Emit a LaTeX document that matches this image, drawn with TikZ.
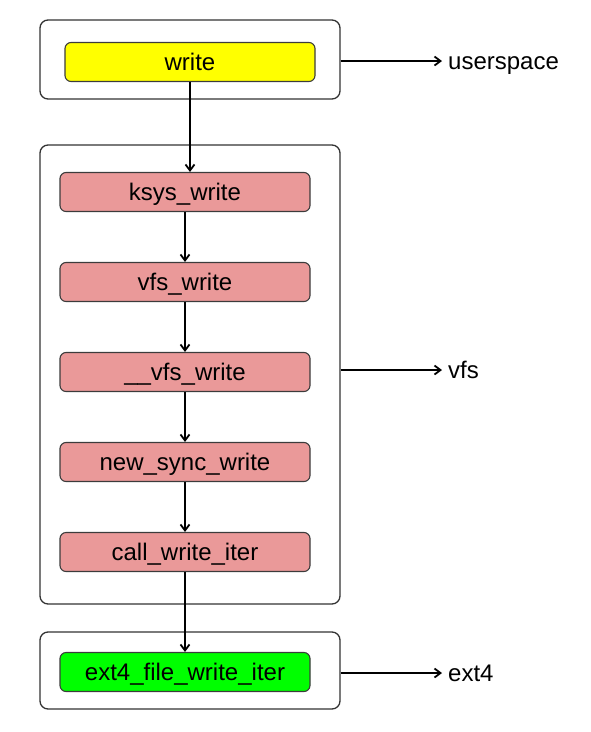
\documentclass[tikz,border=0pt]{standalone}
\usepackage{fontspec}
\setmainfont{Liberation Sans}
\usetikzlibrary{arrows.meta, positioning}

\begin{document}
\begin{tikzpicture}[
    x=1pt, y=-1pt,
    every node/.style={font=\fontsize{24}{28}\selectfont},
    grp/.style={
        rectangle, rounded corners=8pt,
        draw={rgb,255:red,51;green,51;blue,51},
        line width=1.3pt,
        minimum width=300pt
    },
    fn/.style={
        rectangle, rounded corners=6pt,
        draw={rgb,255:red,60;green,60;blue,60},
        line width=1.1pt,
        fill={rgb,255:red,234;green,153;blue,153},
        minimum width=250pt, minimum height=39pt,
        text height=19pt, text depth=3pt,
        inner sep=0pt
    },
    lbl/.style={anchor=west, inner sep=4pt, text height=19pt, text depth=3pt},
    arr/.style={
        -{Straight Barb[length=6pt,width=9pt]},
        line width=1.8pt, black
    }
]
\useasboundingbox (0,0) rectangle (590,732);

%% -- Layer boxes --
\node[grp, minimum height=79pt]  (usrbox) at (190, 59.5)  {};
\node[grp, minimum height=459pt] (vfsbox) at (190, 374.5) {};
\node[grp, minimum height=77pt]  (extbox) at (190, 670.5) {};

%% -- Call chain --
\node[fn, fill={rgb,255:red,255;green,255;blue,0}] (write) at (190, 62) {write};
\node[fn] (ksys)  at (185, 192) {ksys\_write};
\node[fn] (vfsw)  at (185, 282) {vfs\_write};
\node[fn] (uvfsw) at (185, 372) {\_\_vfs\_write};
\node[fn] (nsync) at (185, 462) {new\_sync\_write};
\node[fn] (cwi)   at (185, 552) {call\_write\_iter};
\node[fn, fill={rgb,255:red,0;green,255;blue,0}] (ext4w) at (185, 672) {ext4\_file\_write\_iter};

\draw[arr] (write.south) -- (write.south |- ksys.north);
\draw[arr] (ksys)  -- (vfsw);
\draw[arr] (vfsw)  -- (uvfsw);
\draw[arr] (uvfsw) -- (nsync);
\draw[arr] (nsync) -- (cwi);
\draw[arr] (cwi)   -- (ext4w);

%% -- Layer labels --
\node[lbl] (usr) at (444, 61)  {userspace};
\node[lbl] (vfs) at (444, 370) {vfs};
\node[lbl] (ext) at (444, 673) {ext4};

\draw[arr] (usrbox.east |- usr) -- ([xshift=-2pt]usr.west);
\draw[arr] (vfsbox.east |- vfs) -- ([xshift=-2pt]vfs.west);
\draw[arr] (extbox.east |- ext) -- ([xshift=-2pt]ext.west);

\end{tikzpicture}
\end{document}
